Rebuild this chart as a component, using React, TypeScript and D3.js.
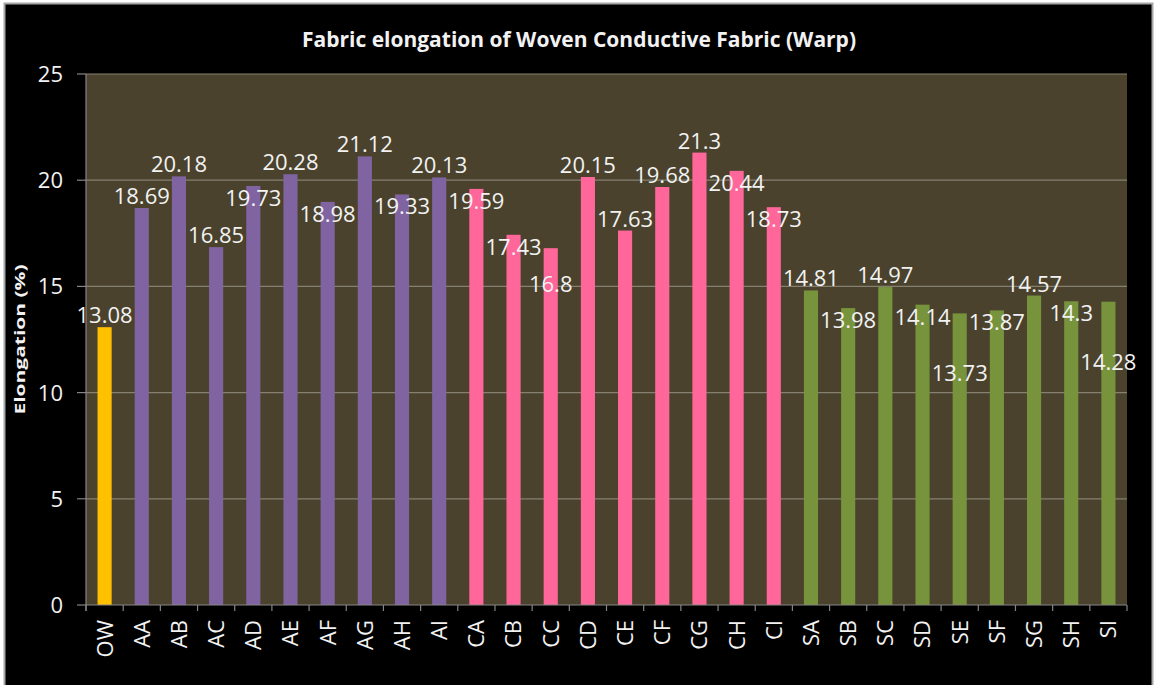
import React from "react";
import * as d3 from "d3";

const categories = [
  "OW",
  "AA", "AB", "AC", "AD", "AE", "AF", "AG", "AH", "AI",
  "CA", "CB", "CC", "CD", "CE", "CF", "CG", "CH", "CI",
  "SA", "SB", "SC", "SD", "SE", "SF", "SG", "SH", "SI",
];
const values = [
  13.08,
  18.69, 20.18, 16.85, 19.73, 20.28, 18.98, 21.12, 19.33, 20.13,
  19.59, 17.43, 16.8, 20.15, 17.63, 19.68, 21.3, 20.44, 18.73,
  14.81, 13.98, 14.97, 14.14, 13.73, 13.87, 14.57, 14.3, 14.28,
];
const groups = [
  "OW",
  "A", "A", "A", "A", "A", "A", "A", "A", "A",
  "C", "C", "C", "C", "C", "C", "C", "C", "C",
  "S", "S", "S", "S", "S", "S", "S", "S", "S",
];
const yTicks = [0, 5, 10, 15, 20, 25];

const groupColor: Record<string, string> = {
  OW: "#ffc000",
  A: "#8064a2",
  C: "#ff6699",
  S: "#77933c",
};

const W = 1161;
const H = 685;
const plot = { left: 86, right: 1127, top: 74, bottom: 605 };
const font = "'Open Sans', 'Liberation Sans', sans-serif";
const textColor = "#f2f2f2";
const labelSize = 22;

// rough text width for the value labels (Open Sans digits)
const labelWidth = (s: string) =>
  s.split("").reduce((w, ch) => w + (ch === "." ? 0.27 : 0.572), 0) * labelSize;

export default function App() {
  const x = d3
    .scaleBand<string>()
    .domain(categories)
    .range([plot.left, plot.right])
    .paddingInner(0.62)
    .paddingOuter(0.31);
  const y = d3.scaleLinear().domain([0, 25]).range([plot.bottom, plot.top]);
  const step = x.step();
  const x0 = x(categories[0])! - step * 0.31;

  // value labels sit on top of bars; if two collide, the lower one is pushed down beside its bar
  const order = d3.range(values.length).sort((a, b) => values[b] - values[a]);
  const placed: { x1: number; x2: number; y1: number; y2: number }[] = [];
  const labelY: number[] = [];
  const shifts = [0, 24, 48, 72, -24, 96];
  order.forEach((i) => {
    const cx = x(categories[i])! + x.bandwidth() / 2;
    const w = labelWidth(String(values[i]));
    const base = y(values[i]) - 4;
    for (const s of shifts) {
      const b = { x1: cx - w / 2, x2: cx + w / 2, y1: base + s - 22, y2: base + s + 6 };
      const hit = placed.some(
        (p) => b.x1 < p.x2 && b.x2 > p.x1 && b.y1 < p.y2 && b.y2 > p.y1
      );
      if (!hit || s === shifts[shifts.length - 1]) {
        placed.push(b);
        labelY[i] = base + s;
        break;
      }
    }
  });

  return (
    <svg
      width={W}
      height={H}
      style={{ position: "absolute", left: 0, top: 0, background: "#fff" }}
    >
      <rect x={4.5} y={3.5} width={1148} height={H} fill="#000" stroke="#a6a6a6" strokeWidth={2} />
      <text
        x={579}
        y={47}
        textAnchor="middle"
        fill={textColor}
        fontFamily={font}
        fontWeight="bold"
        fontSize={21}
        textLength={554}
        lengthAdjust="spacingAndGlyphs"
      >
        Fabric elongation of Woven Conductive Fabric (Warp)
      </text>

      <rect
        x={plot.left}
        y={plot.top}
        width={plot.right - plot.left}
        height={plot.bottom - plot.top}
        fill="#4a422d"
      />

      {/* gridlines + y axis */}
      {yTicks.map((t) => (
        <g key={t}>
          {t > 0 && (
            <line x1={plot.left} x2={plot.right} y1={y(t)} y2={y(t)} stroke="#858070" strokeWidth={1.2} />
          )}
          <line x1={77} x2={plot.left} y1={y(t)} y2={y(t)} stroke="#858585" strokeWidth={1.2} />
          <text
            x={63}
            y={y(t)}
            dy="0.36em"
            textAnchor="end"
            fill={textColor}
            fontFamily={font}
            fontSize={22}
          >
            {t}
          </text>
        </g>
      ))}
      <line x1={plot.left} x2={plot.left} y1={plot.top} y2={plot.bottom + 6} stroke="#858585" strokeWidth={1.2} />

      {/* bars */}
      {categories.map((c, i) => (
        <rect
          key={c}
          x={x(c)}
          y={y(values[i])}
          width={x.bandwidth()}
          height={y(0) - y(values[i])}
          fill={groupColor[groups[i]]}
        />
      ))}

      {/* x axis */}
      <line x1={plot.left} x2={plot.right} y1={plot.bottom} y2={plot.bottom} stroke="#858585" strokeWidth={1.2} />
      {d3.range(categories.length + 1).map((i) => (
        <line
          key={i}
          x1={x0 + i * step}
          x2={x0 + i * step}
          y1={plot.bottom}
          y2={plot.bottom + 6}
          stroke="#858585"
          strokeWidth={1.2}
        />
      ))}
      {categories.map((c) => {
        const cx = x(c)! + x.bandwidth() / 2;
        return (
          <text
            key={c}
            transform={`translate(${cx},${plot.bottom + 15}) rotate(-90)`}
            dy="0.36em"
            textAnchor="end"
            fill={textColor}
            fontFamily={font}
            fontSize={22}
          >
            {c}
          </text>
        );
      })}

      {/* data labels */}
      {categories.map((c, i) => (
        <text
          key={c}
          x={x(c)! + x.bandwidth() / 2}
          y={labelY[i]}
          textAnchor="middle"
          fill={textColor}
          fontFamily={font}
          fontSize={labelSize}
        >
          {values[i]}
        </text>
      ))}

      <text
        transform={`translate(20,${(plot.top + plot.bottom) / 2}) rotate(-90)`}
        dy="0.36em"
        textAnchor="middle"
        fill={textColor}
        fontFamily={font}
        fontWeight="bold"
        fontSize={14}
        textLength={150}
        lengthAdjust="spacingAndGlyphs"
      >
        Elongation (%)
      </text>
    </svg>
  );
}
